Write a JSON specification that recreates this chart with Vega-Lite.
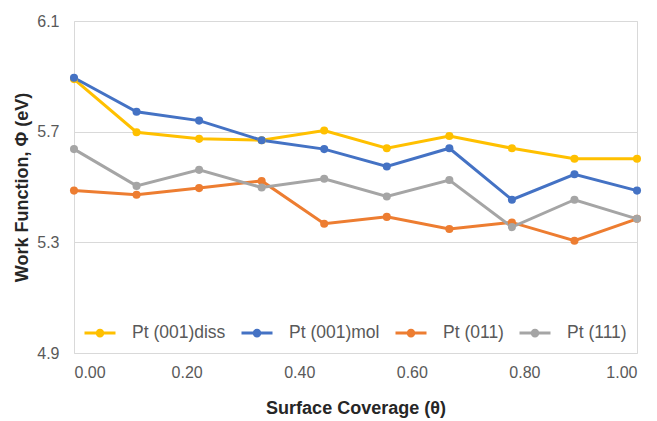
{
  "$schema": "https://vega.github.io/schema/vega-lite/v6.json",
  "width": 563,
  "height": 332,
  "autosize": "none",
  "padding": {"left": 74, "top": 21, "right": 20, "bottom": 68},
  "background": "white",
  "config": {
    "font": "Liberation Sans",
    "view": {"stroke": "#d9d9d9", "strokeWidth": 1}
  },
  "data": {
    "values": [
      {"theta": 0.0, "wf": 5.89, "series": "Pt (001)diss"},
      {"theta": 0.1111, "wf": 5.698, "series": "Pt (001)diss"},
      {"theta": 0.2222, "wf": 5.674, "series": "Pt (001)diss"},
      {"theta": 0.3333, "wf": 5.669, "series": "Pt (001)diss"},
      {"theta": 0.4444, "wf": 5.704, "series": "Pt (001)diss"},
      {"theta": 0.5556, "wf": 5.64, "series": "Pt (001)diss"},
      {"theta": 0.6667, "wf": 5.684, "series": "Pt (001)diss"},
      {"theta": 0.7778, "wf": 5.64, "series": "Pt (001)diss"},
      {"theta": 0.8889, "wf": 5.602, "series": "Pt (001)diss"},
      {"theta": 1.0, "wf": 5.602, "series": "Pt (001)diss"},
      {"theta": 0.0, "wf": 5.895, "series": "Pt (001)mol"},
      {"theta": 0.1111, "wf": 5.772, "series": "Pt (001)mol"},
      {"theta": 0.2222, "wf": 5.74, "series": "Pt (001)mol"},
      {"theta": 0.3333, "wf": 5.669, "series": "Pt (001)mol"},
      {"theta": 0.4444, "wf": 5.637, "series": "Pt (001)mol"},
      {"theta": 0.5556, "wf": 5.574, "series": "Pt (001)mol"},
      {"theta": 0.6667, "wf": 5.64, "series": "Pt (001)mol"},
      {"theta": 0.7778, "wf": 5.454, "series": "Pt (001)mol"},
      {"theta": 0.8889, "wf": 5.546, "series": "Pt (001)mol"},
      {"theta": 1.0, "wf": 5.487, "series": "Pt (001)mol"},
      {"theta": 0.0, "wf": 5.487, "series": "Pt (011)"},
      {"theta": 0.1111, "wf": 5.472, "series": "Pt (011)"},
      {"theta": 0.2222, "wf": 5.496, "series": "Pt (011)"},
      {"theta": 0.3333, "wf": 5.522, "series": "Pt (011)"},
      {"theta": 0.4444, "wf": 5.367, "series": "Pt (011)"},
      {"theta": 0.5556, "wf": 5.392, "series": "Pt (011)"},
      {"theta": 0.6667, "wf": 5.348, "series": "Pt (011)"},
      {"theta": 0.7778, "wf": 5.372, "series": "Pt (011)"},
      {"theta": 0.8889, "wf": 5.306, "series": "Pt (011)"},
      {"theta": 1.0, "wf": 5.385, "series": "Pt (011)"},
      {"theta": 0.0, "wf": 5.637, "series": "Pt (111)"},
      {"theta": 0.1111, "wf": 5.504, "series": "Pt (111)"},
      {"theta": 0.2222, "wf": 5.562, "series": "Pt (111)"},
      {"theta": 0.3333, "wf": 5.498, "series": "Pt (111)"},
      {"theta": 0.4444, "wf": 5.53, "series": "Pt (111)"},
      {"theta": 0.5556, "wf": 5.466, "series": "Pt (111)"},
      {"theta": 0.6667, "wf": 5.525, "series": "Pt (111)"},
      {"theta": 0.7778, "wf": 5.355, "series": "Pt (111)"},
      {"theta": 0.8889, "wf": 5.454, "series": "Pt (111)"},
      {"theta": 1.0, "wf": 5.385, "series": "Pt (111)"}
    ]
  },
  "mark": {"type": "line", "strokeWidth": 3, "point": {"filled": true, "size": 65, "opacity": 1}},
  "encoding": {
    "x": {
      "field": "theta", "type": "quantitative",
      "scale": {"domain": [0, 1], "nice": false, "zero": false},
      "axis": {
        "title": "Surface Coverage (θ)",
        "values": [0, 0.2, 0.4, 0.6, 0.8, 1.0],
        "format": ".2f",
        "grid": false, "domain": false, "ticks": false,
        "labelFont": "Liberation Sans", "labelFontSize": 16, "labelColor": "#595959",
        "labelPadding": 11,
        "titleFont": "Liberation Sans", "titleFontSize": 18, "titleFontWeight": "bold", "titleColor": "#262626",
        "titlePadding": 19
      }
    },
    "y": {
      "field": "wf", "type": "quantitative",
      "scale": {"domain": [4.9, 6.1], "nice": false, "zero": false},
      "axis": {
        "title": "Work Function, Φ (eV)",
        "values": [4.9, 5.3, 5.7, 6.1],
        "format": ".1f",
        "grid": true, "gridColor": "#d9d9d9", "gridWidth": 1,
        "domain": false, "ticks": false,
        "labelFont": "Liberation Sans", "labelFontSize": 16, "labelColor": "#595959",
        "labelPadding": 15,
        "titleFont": "Liberation Sans", "titleFontSize": 18, "titleFontWeight": "bold", "titleColor": "#262626",
        "titlePadding": 5
      }
    },
    "color": {
      "field": "series", "type": "nominal",
      "scale": {
        "domain": ["Pt (001)diss", "Pt (001)mol", "Pt (011)", "Pt (111)"],
        "range": ["#FFC000", "#4472C4", "#ED7D31", "#A5A5A5"]
      },
      "legend": {
        "title": null,
        "orient": "none",
        "direction": "horizontal",
        "legendX": 9,
        "legendY": 295,
        "padding": 0,
        "columnPadding": 9,
        "symbolType": "M-1,0H1M0.18,0A0.18,0.18,0,1,1,-0.18,0A0.18,0.18,0,1,1,0.18,0Z",
        "symbolSize": 961,
        "symbolStrokeWidth": 3,
        "labelOffset": 15,
        "labelFont": "Liberation Sans",
        "labelFontSize": 17.5,
        "labelColor": "#595959",
        "encode": {
          "symbols": {
            "update": {
              "fill": {"scale": "color", "field": "value"},
              "stroke": {"scale": "color", "field": "value"},
              "opacity": {"value": 1}
            }
          }
        }
      }
    }
  }
}
